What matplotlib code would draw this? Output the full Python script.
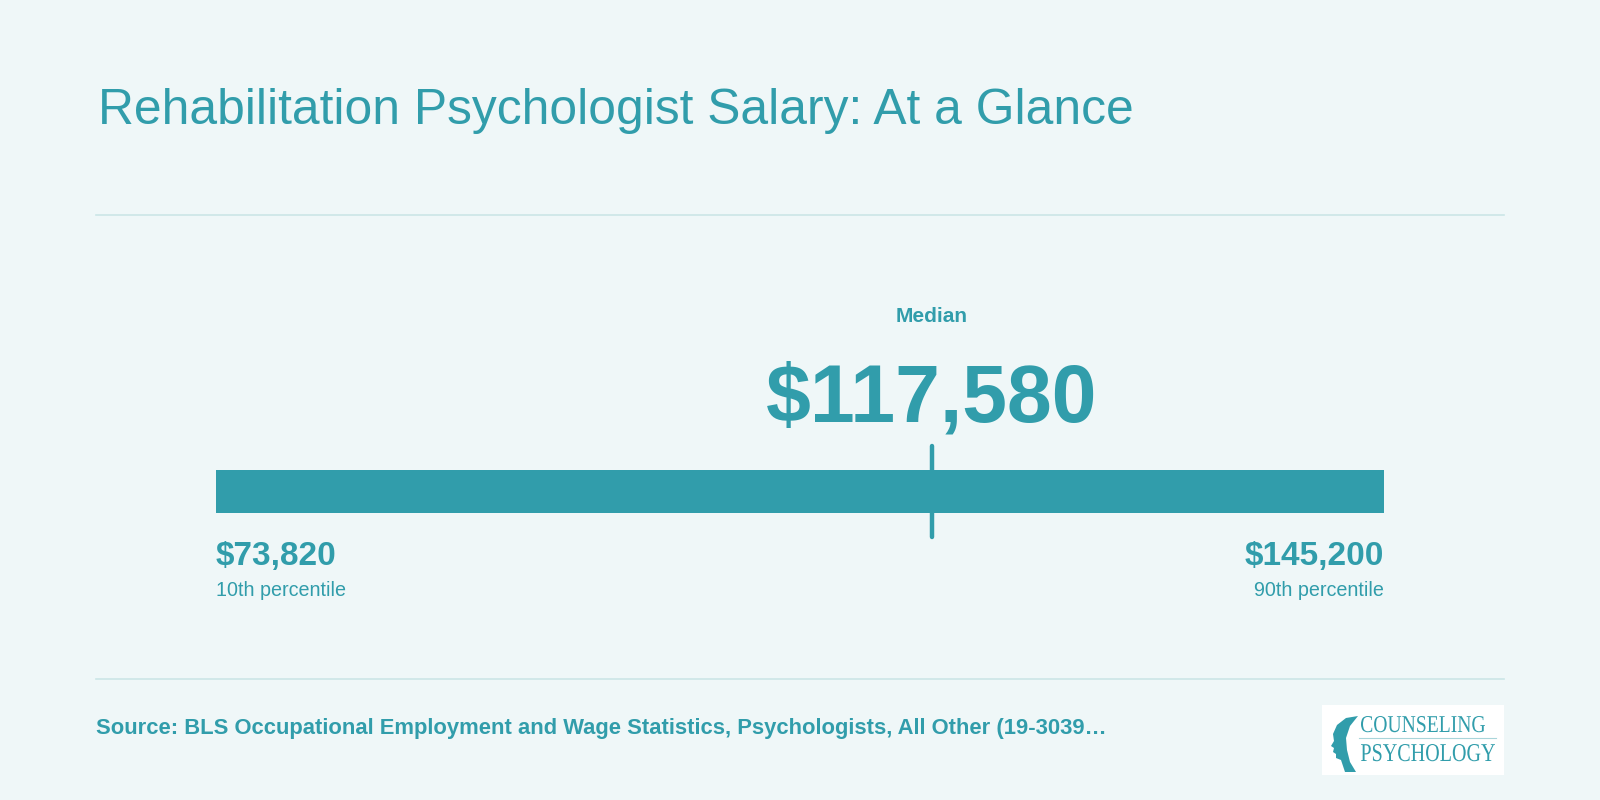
import matplotlib
matplotlib.use("Agg")
import matplotlib.pyplot as plt
from matplotlib.patches import Rectangle, PathPatch, Polygon
from matplotlib.textpath import TextPath
from matplotlib.font_manager import FontProperties
from matplotlib.transforms import Affine2D

# Datos
title = "Rehabilitation Psychologist Salary: At a Glance"
p10 = 73820
median = 117580
p90 = 145200
p10_label = "10th percentile"
p90_label = "90th percentile"
median_label = "Median"
source = "Source: BLS Occupational Employment and Wage Statistics, Psychologists, All Other (19-3039\u2026"

# Colores
bg = "#eff7f8"
teal = "#319dab"
rule = "#cbe6e7"

plt.rcParams["font.family"] = ["Liberation Sans", "DejaVu Sans"]

fig = plt.figure(figsize=(16, 8), dpi=100, facecolor=bg)

# capa en pixeles
ax0 = fig.add_axes([0, 0, 1, 1])
ax0.set_xlim(0, 1600)
ax0.set_ylim(800, 0)
ax0.axis("off")
ax0.set_facecolor(bg)

ax0.text(98, 124, title, fontsize=35.8, color=teal, va="baseline", ha="left")
ax0.plot([96, 1504], [215, 215], color=rule, lw=1.2)
ax0.plot([96, 1504], [679, 679], color=rule, lw=1.2)
ax0.text(96, 734, source, fontsize=15.85, fontweight="bold", color=teal, va="baseline", ha="left")

# barra: x en dolares, y en pixeles
left, right = 216, 1384
ax = fig.add_axes([left / 1600, 0, (right - left) / 1600, 1])
ax.set_xlim(p10, p90)
ax.set_ylim(800, 0)
ax.axis("off")
ax.patch.set_alpha(0)

ax.barh(491.7, p90 - p10, left=p10, height=43.5, color=teal)
ax.plot([median, median], [446, 537], color=teal, lw=3.2, solid_capstyle="round", clip_on=False)

ax.text(median, 322, median_label, fontsize=15, fontweight="bold", color=teal, ha="center", va="baseline")
ax.text(median, 421, f"${median:,}", fontsize=58, fontweight="bold", color=teal, ha="center", va="baseline")
ax.text(p10, 565, f"${p10:,}", fontsize=24, fontweight="bold", color=teal, ha="left", va="baseline", clip_on=False)
ax.text(p10, 596, p10_label, fontsize=14.2, color=teal, ha="left", va="baseline", clip_on=False)
ax.text(p90, 565, f"${p90:,}", fontsize=24, fontweight="bold", color=teal, ha="right", va="baseline", clip_on=False)
ax.text(p90, 596, p90_label, fontsize=14.2, color=teal, ha="right", va="baseline", clip_on=False)

# logo
ax0.add_patch(Rectangle((1322, 705), 182, 70, facecolor="white", edgecolor="none"))


def fit_text(s, x0, x1, ytop, ybase):
    tp = TextPath((0, 0), s, size=20, prop=FontProperties(family="Liberation Serif"))
    ext = tp.get_extents()
    sx = (x1 - x0) / ext.width
    sy = (ybase - ytop) / ext.y1
    tr = Affine2D().translate(-ext.x0, 0).scale(sx, -sy).translate(x0, ybase) + ax0.transData
    ax0.add_patch(PathPatch(tp, transform=tr, facecolor=teal, edgecolor="none"))


fit_text("COUNSELING", 1361, 1485, 716, 732)
fit_text("PSYCHOLOGY", 1361, 1495, 744, 761)
ax0.plot([1359, 1496], [738, 738], color="#a9d5da", lw=0.8)

head = [(1358, 716), (1346, 718), (1337, 725), (1333, 734), (1334, 741), (1331, 746),
        (1334, 748), (1333, 752), (1336, 754), (1336, 758), (1341, 760), (1343, 766),
        (1345, 772), (1356, 772), (1350, 762), (1347, 750), (1346, 738), (1350, 726)]
ax0.add_patch(Polygon(head, closed=True, facecolor=teal, edgecolor="none"))

fig.savefig("out.png", dpi=100, facecolor=bg)
